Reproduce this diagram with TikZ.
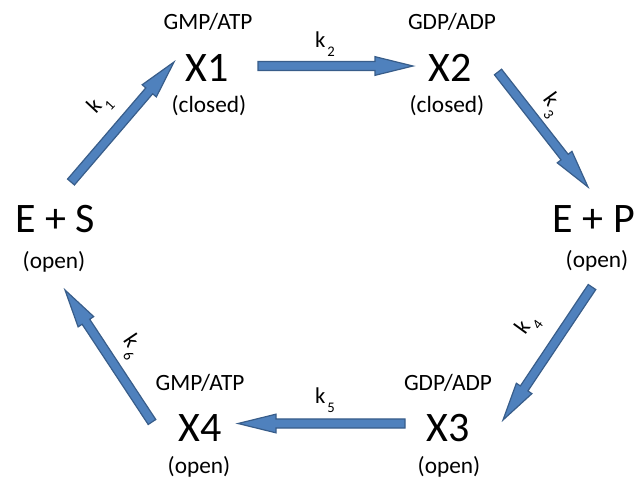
\documentclass[tikz,border=0pt]{standalone}
\usepackage{fontspec}
\setmainfont{Carlito}
\usetikzlibrary{calc}

\definecolor{arrowfill}{HTML}{4F81BD}
\definecolor{arrowline}{HTML}{385D8A}

% half shaft width, half head width and head length of the block arrows
\newcommand{\sw}{3.4pt}
\newcommand{\hw}{7.0pt}
\newcommand{\hl}{28.5pt}

% block arrow from tail coordinate #1 to tip coordinate #2
\newcommand{\blockarrow}[2]{%
  \path ($(#2)!\hl!(#1)$) coordinate (hb);
  \filldraw[barrow]
    ($(#1)!\sw!90:(#2)$) -- ($(hb)!\sw!90:(#2)$) -- ($(hb)!\hw!90:(#2)$)
    -- (#2)
    -- ($(hb)!\hw!-90:(#2)$) -- ($(hb)!\sw!-90:(#2)$) -- ($(#1)!\sw!-90:(#2)$)
    -- cycle;}

% rate constant label: k with a lowered subscript
\newcommand{\rate}[1]{k\kern1.5pt\raisebox{-6.5pt}{\fontsize{11}{11}\selectfont #1}}

\tikzset{
  barrow/.style={fill=arrowfill, draw=arrowline, line width=0.9pt, line join=miter},
  big/.style={inner sep=0pt, font=\fontsize{31.5}{31.5}\selectfont},
  small/.style={inner sep=0pt, font=\fontsize{17.5}{17.5}\selectfont},
  ratelbl/.style={inner sep=0pt, font=\fontsize{17}{17}\selectfont},
}

\begin{document}
\begin{tikzpicture}[x=0.75pt, y=-0.75pt]
\useasboundingbox (0,0) rectangle (641,479);

% states
\node[small] (x1t) at (208,22) {GMP/ATP};
\node[big]   (x1)  at (207,68) {X1};
\node[small] (x1b) at (209,106) {(closed)};

\node[small] (x2t) at (452,22) {GDP/ADP};
\node[big]   (x2)  at (450,68) {X2};
\node[small] (x2b) at (447,106) {(closed)};

\node[big]   (ep)  at (594,219) {E + P};
\node[small] (epb) at (597,261) {(open)};

\node[small] (x3t) at (448,383) {GDP/ADP};
\node[big]   (x3)  at (448,428) {X3};
\node[small] (x3b) at (449,467) {(open)};

\node[small] (x4t) at (200,383) {GMP/ATP};
\node[big]   (x4)  at (200,428) {X4};
\node[small] (x4b) at (199,467) {(open)};

\node[big]   (es)  at (55,219) {E + S};
\node[small] (esb) at (54,262) {(open)};

% arrow ends
\coordinate (a1s) at (71,182);   \coordinate (a1e) at (174,62);
\coordinate (a2s) at (258,66);   \coordinate (a2e) at (413,66);
\coordinate (a3s) at (498,72);   \coordinate (a3e) at (588,187);
\coordinate (a4s) at (592,287);  \coordinate (a4e) at (503,420);
\coordinate (a5s) at (405,423.5);\coordinate (a5e) at (238,423.5);
\coordinate (a6s) at (152,422);  \coordinate (a6e) at (65,290);

\blockarrow{a1s}{a1e}
\blockarrow{a2s}{a2e}
\blockarrow{a3s}{a3e}
\blockarrow{a4s}{a4e}
\blockarrow{a5s}{a5e}
\blockarrow{a6s}{a6e}

% rate constants
\node[ratelbl, rotate=47]  (k1) at (100,105) {\rate{1}};
\node[ratelbl]             (k2) at (325,44)  {\rate{2}};
\node[ratelbl, rotate=-54] (k3) at (551,105) {\rate{3}};
\node[ratelbl, rotate=54]  (k4) at (528,325) {\rate{4}};
\node[ratelbl]             (k5) at (325,400) {\rate{5}};
\node[ratelbl, rotate=-56] (k6) at (131,347) {\rate{6}};
\end{tikzpicture}
\end{document}
